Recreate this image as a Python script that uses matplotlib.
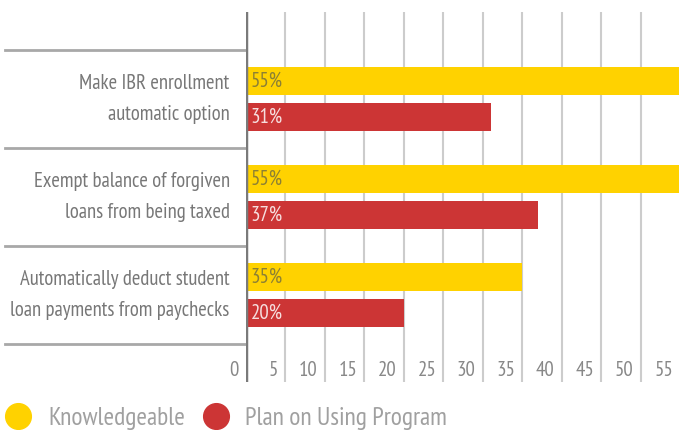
import matplotlib
matplotlib.use('Agg')
import matplotlib.pyplot as plt
import matplotlib.transforms as mtransforms
from matplotlib.lines import Line2D
import numpy as np

categories = ["Make IBR enrollment\nautomatic option",
              "Exempt balance of forgiven\nloans from being taxed",
              "Automatically deduct student\nloan payments from paychecks"]
knowledgeable = [55, 55, 35]
plan_on_using = [31, 37, 20]
tick_values = [0, 5, 10, 15, 20, 25, 30, 35, 40, 45, 50, 55]
series_names = ["Knowledgeable", "Plan on Using Program"]

YELLOW = '#FFD200'
RED = '#CC3535'
plt.rcParams['font.family'] = ['PT Sans Narrow', 'DejaVu Sans']

W, H = 679, 430
fig = plt.figure(figsize=(W / 100, H / 100), dpi=100)
x0, x1 = 245.7, 680.2
ytop, ybot = 12, 382
ax = fig.add_axes([x0 / W, 1 - ybot / H, (x1 - x0) / W, (ybot - ytop) / H])
ax.set_xlim(0, 55)
ax.set_ylim(2.888, -0.888)
ax.axis('off')

pos = np.arange(len(categories))
off, h = 0.184, 0.29
ax.barh(pos - off, knowledgeable, height=h, color=YELLOW, zorder=3)
ax.barh(pos + off, plan_on_using, height=h, color=RED, zorder=3)

# vertical grid + zero line
for t in tick_values[1:]:
    ax.axvline(t, color='#cccccc', lw=1.5, zorder=1)
ax.axvline(0, color='#7a7a7a', lw=2.5, zorder=4)

# group separators in the label column
blend = mtransforms.blended_transform_factory(ax.transAxes, ax.transData)
left_ax = (5 - x0) / (x1 - x0)
for yy in [-0.5, 0.5, 1.5, 2.5]:
    ax.plot([left_ax, 0], [yy, yy], transform=blend, color='#a8a8a8',
            lw=2, clip_on=False, zorder=2)

for i, cat in enumerate(categories):
    ax.annotate(cat, xy=(0, i), xytext=(-16, 0), textcoords='offset pixels',
                ha='right', va='center', fontsize=14.9, color='#777777',
                linespacing=1.78, annotation_clip=False)

for i in range(len(categories)):
    ax.annotate(f"{knowledgeable[i]}%", xy=(0, pos[i] - off), xytext=(5, 0),
                textcoords='offset pixels', ha='left', va='center',
                fontsize=15, color='#8c8034', zorder=5)
    ax.annotate(f"{plan_on_using[i]}%", xy=(0, pos[i] + off), xytext=(5, 0),
                textcoords='offset pixels', ha='left', va='center',
                fontsize=15, color='#f6dede', zorder=5)

for t in tick_values:
    ax.annotate(str(t), xy=(t, 2.77), xytext=(-7, 0), textcoords='offset pixels',
                ha='right', va='center', fontsize=15, color='#888888',
                annotation_clip=False)

# legend drawn by hand along the bottom
ly = 1 - 416 / H
for cx, tx, col, name in [(18, 48, YELLOW, series_names[0]),
                          (216, 245, RED, series_names[1])]:
    fig.add_artist(Line2D([cx / W], [ly], marker='o', ms=18.5, color=col,
                          ls='', transform=fig.transFigure))
    fig.text(tx / W, ly - 0.005, name, ha='left', va='center', fontsize=18.4,
             color='#a0a0a0')

fig.savefig('out.png', dpi=100)
